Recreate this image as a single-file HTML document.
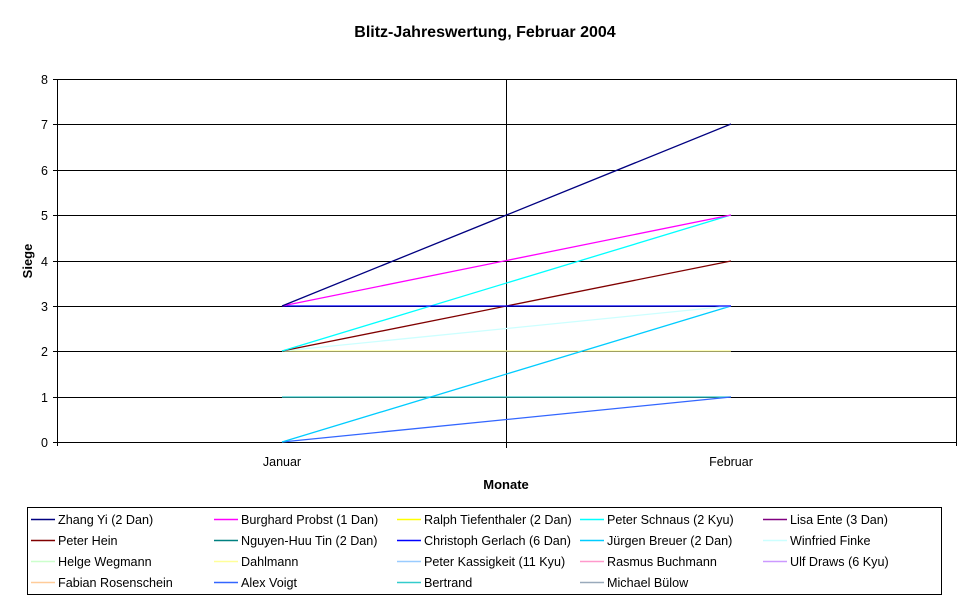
<!DOCTYPE html>
<html><head><meta charset="utf-8"><style>
body{margin:0;background:#fff;width:970px;height:603px;overflow:hidden;font-family:"Liberation Sans",Arial,sans-serif}
</style></head><body>
<svg width="970" height="603" xmlns="http://www.w3.org/2000/svg" font-family="Liberation Sans, Arial, sans-serif">
<text x="485" y="37" text-anchor="middle" font-size="16" font-weight="bold">Blitz-Jahreswertung, Februar 2004</text>
<g stroke="#000" stroke-width="1" shape-rendering="crispEdges">
<line x1="57" y1="79.5" x2="956" y2="79.5"/>
<line x1="57" y1="124.5" x2="956" y2="124.5"/>
<line x1="57" y1="170.5" x2="956" y2="170.5"/>
<line x1="57" y1="215.5" x2="956" y2="215.5"/>
<line x1="57" y1="261.5" x2="956" y2="261.5"/>
<line x1="57" y1="306.5" x2="956" y2="306.5"/>
<line x1="57" y1="351.5" x2="956" y2="351.5"/>
<line x1="57" y1="397.5" x2="956" y2="397.5"/>
<line x1="53" y1="442.5" x2="956" y2="442.5"/>
<line x1="57.5" y1="79" x2="57.5" y2="446"/>
<line x1="506.5" y1="79" x2="506.5" y2="448"/>
<line x1="956.5" y1="79" x2="956.5" y2="446"/>
<line x1="53" y1="79.5" x2="57" y2="79.5"/><line x1="53" y1="124.5" x2="57" y2="124.5"/><line x1="53" y1="170.5" x2="57" y2="170.5"/><line x1="53" y1="215.5" x2="57" y2="215.5"/><line x1="53" y1="261.5" x2="57" y2="261.5"/><line x1="53" y1="306.5" x2="57" y2="306.5"/><line x1="53" y1="351.5" x2="57" y2="351.5"/><line x1="53" y1="397.5" x2="57" y2="397.5"/>
</g>
<g font-size="12.5" text-anchor="end">
<text x="48" y="84">8</text><text x="48" y="129">7</text><text x="48" y="175">6</text><text x="48" y="220">5</text><text x="48" y="266">4</text><text x="48" y="311">3</text><text x="48" y="356">2</text><text x="48" y="402">1</text><text x="48" y="447">0</text>
</g>
<text x="282" y="466" text-anchor="middle" font-size="12.5">Januar</text>
<text x="731" y="466" text-anchor="middle" font-size="12.5">Februar</text>
<text x="506" y="489" text-anchor="middle" font-size="13" font-weight="bold">Monate</text>
<text transform="translate(32,261) rotate(-90)" text-anchor="middle" font-size="13" font-weight="bold">Siege</text>
<g stroke-width="1.3" fill="none">
<line x1="282" y1="397" x2="731" y2="397" stroke="#33cccc"/>
<line x1="282" y1="351" x2="731" y2="351" stroke="#ffff99"/>
<line x1="282" y1="442" x2="731" y2="397" stroke="#3366ff"/>
<line x1="282" y1="442" x2="731" y2="306" stroke="#00ccff"/>
<line x1="282" y1="351" x2="731" y2="306" stroke="#ccffff"/>
<line x1="282" y1="351" x2="731" y2="261" stroke="#800000"/>
<line x1="282" y1="351" x2="731" y2="215" stroke="#00ffff"/>
<line x1="282" y1="306" x2="731" y2="306" stroke="#0000ff"/>
<line x1="282" y1="306" x2="731" y2="215" stroke="#ff00ff"/>
<line x1="282" y1="306" x2="731" y2="124" stroke="#000080"/>
</g>
<rect x="27.5" y="507.5" width="914" height="87" fill="none" stroke="#000"/>
<g font-size="12.6" stroke-width="1.6">
<line x1="31" y1="519.5" x2="55" y2="519.5" stroke="#000080"/><text x="58" y="524">Zhang Yi (2 Dan)</text>
<line x1="31" y1="540.5" x2="55" y2="540.5" stroke="#800000"/><text x="58" y="545">Peter Hein</text>
<line x1="31" y1="561.5" x2="55" y2="561.5" stroke="#ccffcc"/><text x="58" y="566">Helge Wegmann</text>
<line x1="31" y1="582.5" x2="55" y2="582.5" stroke="#ffcc99"/><text x="58" y="587">Fabian Rosenschein</text>

<line x1="214" y1="519.5" x2="238" y2="519.5" stroke="#ff00ff"/><text x="241" y="524">Burghard Probst (1 Dan)</text>
<line x1="214" y1="540.5" x2="238" y2="540.5" stroke="#008080"/><text x="241" y="545">Nguyen-Huu Tin (2 Dan)</text>
<line x1="214" y1="561.5" x2="238" y2="561.5" stroke="#ffff99"/><text x="241" y="566">Dahlmann</text>
<line x1="214" y1="582.5" x2="238" y2="582.5" stroke="#3366ff"/><text x="241" y="587">Alex Voigt</text>

<line x1="397" y1="519.5" x2="421" y2="519.5" stroke="#ffff00"/><text x="424" y="524">Ralph Tiefenthaler (2 Dan)</text>
<line x1="397" y1="540.5" x2="421" y2="540.5" stroke="#0000ff"/><text x="424" y="545">Christoph Gerlach (6 Dan)</text>
<line x1="397" y1="561.5" x2="421" y2="561.5" stroke="#99ccff"/><text x="424" y="566">Peter Kassigkeit (11 Kyu)</text>
<line x1="397" y1="582.5" x2="421" y2="582.5" stroke="#33cccc"/><text x="424" y="587">Bertrand</text>

<line x1="580" y1="519.5" x2="604" y2="519.5" stroke="#00ffff"/><text x="607" y="524">Peter Schnaus (2 Kyu)</text>
<line x1="580" y1="540.5" x2="604" y2="540.5" stroke="#00ccff"/><text x="607" y="545">Jürgen Breuer (2 Dan)</text>
<line x1="580" y1="561.5" x2="604" y2="561.5" stroke="#ff99cc"/><text x="607" y="566">Rasmus Buchmann</text>
<line x1="580" y1="582.5" x2="604" y2="582.5" stroke="#99aabb"/><text x="607" y="587">Michael Bülow</text>

<line x1="763" y1="519.5" x2="787" y2="519.5" stroke="#800080"/><text x="790" y="524">Lisa Ente (3 Dan)</text>
<line x1="763" y1="540.5" x2="787" y2="540.5" stroke="#ccffff"/><text x="790" y="545">Winfried Finke</text>
<line x1="763" y1="561.5" x2="787" y2="561.5" stroke="#cc99ff"/><text x="790" y="566">Ulf Draws (6 Kyu)</text>
</g>
</svg>
</body></html>
